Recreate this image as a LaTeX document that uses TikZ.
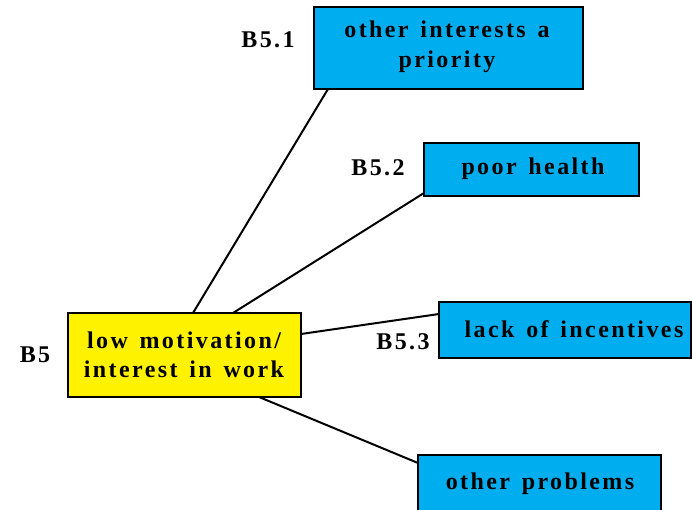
\documentclass[tikz,border=0pt]{standalone}
\usepackage{fontspec}
\setmainfont{Liberation Serif}[LetterSpace=10, WordSpace=1.4]
\definecolor{boxblue}{HTML}{00AEEF}
\definecolor{boxyellow}{HTML}{FFF200}
\begin{document}
\begin{tikzpicture}[x=1pt,y=-1pt,
  every node/.style={font=\fontsize{24}{29}\selectfont\bfseries, inner sep=0pt, align=center},
  cause/.style={draw=black, line width=2.2pt, fill=boxblue},
  root/.style={draw=black, line width=2.2pt, fill=boxyellow},
  link/.style={draw=black, line width=2pt},
  tag/.style={anchor=center}]
\useasboundingbox (0,0) rectangle (692,510);
\clip (0,0) rectangle (692,510);
% boxes
\node[root, minimum width=233pt, minimum height=84pt] (b5) at (184.5,355) {};
\node (b5t) at (184,355) {low motivation/\\interest in work};
\node[cause, minimum width=269pt, minimum height=82pt] (b51) at (448.5,48) {};
\node[font=\fontsize{24}{30}\selectfont\bfseries] (b51t) at (447,47) {other interests a\\priority};
\node[cause, minimum width=215pt, minimum height=53pt] (b52) at (531.5,169.5) {};
\node (b52t) at (533,169) {poor health};
\node[cause, minimum width=252pt, minimum height=56pt] (b53) at (565,330) {};
\node (b53t) at (574,329) {lack of incentives};
\node[cause, minimum width=243pt, minimum height=62pt] (b54) at (539.5,486) {};
\node (b54t) at (540,484) {other problems};
% codes
\node[tag] (l5) at (35,355) {B5};
\node[tag] (l51) at (268,40) {B5.1};
\node[tag] (l52) at (378,168) {B5.2};
\node[tag] (l53) at (403,342) {B5.3};
% connectors
\coordinate (p1) at (193,313);
\coordinate (p2) at (233,313);
\coordinate (p3) at (301,334);
\coordinate (p4) at (259,397);
\coordinate (q1) at (328,89);
\coordinate (q2) at (424,193);
\coordinate (q3) at (439,314);
\coordinate (q4) at (418,463);
\draw[link] (p1) -- (q1);
\draw[link] (p2) -- (q2);
\draw[link] (p3) -- (q3);
\draw[link] (p4) -- (q4);
\end{tikzpicture}
\end{document}
